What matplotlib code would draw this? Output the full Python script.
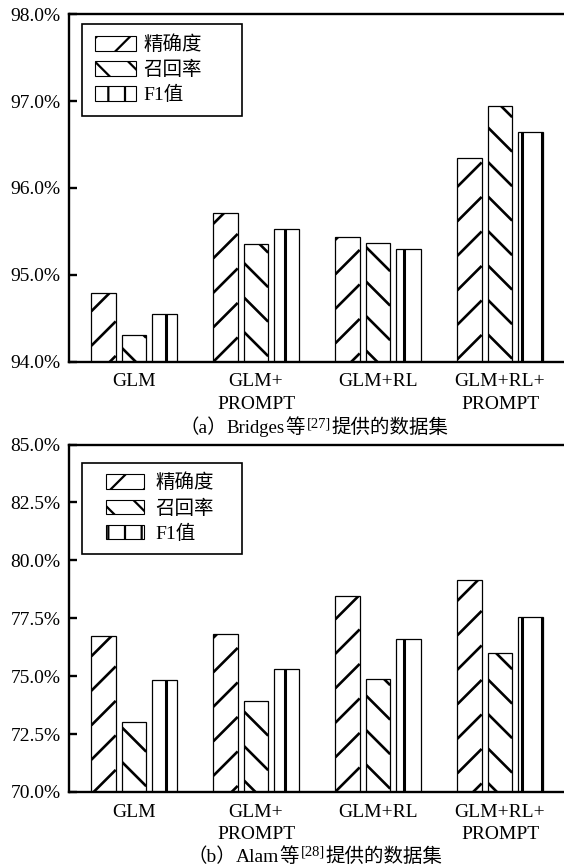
import numpy as np
import matplotlib
matplotlib.use('Agg')
import matplotlib.pyplot as plt
from matplotlib.collections import LineCollection
from matplotlib.transforms import IdentityTransform
from matplotlib.patches import Patch, Rectangle
from matplotlib.legend_handler import HandlerPatch

plt.rcParams['font.family'] = ['Liberation Serif', 'Noto Sans CJK SC']
plt.rcParams['hatch.linewidth'] = 1.6

methods = ['GLM', 'GLM+\nPROMPT', 'GLM+RL', 'GLM+RL+\nPROMPT']
metric_names = ['精确度', '召回率', 'F1值']

# (a) Bridges dataset, %
bridges_precision = [94.79, 95.71, 95.44, 96.35]
bridges_recall = [94.31, 95.35, 95.37, 96.94]
bridges_f1 = [94.55, 95.53, 95.30, 96.64]
bridges_ticks = [94.0, 95.0, 96.0, 97.0, 98.0]

# (b) Alam dataset, %
alam_precision = [76.74, 76.82, 78.46, 79.15]
alam_recall = [73.04, 73.92, 74.87, 76.02]
alam_f1 = [74.84, 75.33, 76.62, 77.54]
alam_ticks = [70.0, 72.5, 75.0, 77.5, 80.0, 82.5, 85.0]

W, H = 564, 868
fig = plt.figure(figsize=(W / 100, H / 100), dpi=100)


def stripes(bars, kind):
    # hand-made sparse hatching, drawn in pixel space and clipped to each bar
    for b in bars:
        x0, y0, x1, y1 = b.get_window_extent().extents
        segs = []
        if kind == 'v':
            step, ph, lw = 19.8, 7.6, 2.2
            ks = np.arange(np.floor((x0 - ph) / step), np.ceil((x1 - ph) / step) + 1)
            for x in ks * step + ph:
                segs.append([(x, y0), (x, y1)])
        elif kind == 'ne':
            step, ph, lw = 34.5, 16.9, 1.9
            ks = np.arange(np.floor((y0 - x1 - ph) / step), np.ceil((y1 - x0 - ph) / step) + 1)
            for c in ks * step + ph:
                segs.append([(x0, x0 + c), (x1, x1 + c)])
        else:
            step, ph, lw = 34.5, 21.0, 1.9
            ks = np.arange(np.floor((y0 + x0 - ph) / step), np.ceil((y1 + x1 - ph) / step) + 1)
            for c in ks * step + ph:
                segs.append([(x0, c - x0), (x1, c - x1)])
        lc = LineCollection(segs, colors='black', linewidths=lw,
                            transform=IdentityTransform(), capstyle='butt')
        b.axes.add_collection(lc, autolim=False)
        # clip after adding, otherwise the axes patch replaces it
        lc.set_clip_path(b)


def legend_patch(shift):
    def make(legend, orig_handle, xdescent, ydescent, width, height, fontsize):
        return Rectangle((-xdescent + shift, -ydescent), width - shift, height)
    return make


def panel(rect, prec, rec, f1, ticks, leg_top, shift, hlen, tpad):
    ax = fig.add_axes(rect)
    x = np.arange(len(methods))
    base = ticks[0]
    ax.set_xlim(-0.533, 3.525)
    ax.set_ylim(ticks[0], ticks[-1])

    for k, (vals, kind) in enumerate(zip([prec, rec, f1], ['ne', 'nw', 'v'])):
        v = np.array(vals)
        bars = ax.bar(x + (k - 1) * 0.25, v - base, bottom=base, width=0.2,
                      color='white', edgecolor='black', linewidth=0.9)
        stripes(bars, kind)

    ax.spines['right'].set_visible(False)
    for s in ['left', 'top', 'bottom']:
        ax.spines[s].set_linewidth(1.7)

    ax.set_yticks(ticks)
    ax.set_yticklabels([f'{t:.1f}%' for t in ticks])
    ax.tick_params(axis='y', direction='in', length=6, width=1.7, pad=6, labelsize=14)
    ax.set_xticks(x)
    ax.set_xticklabels(methods)
    ax.tick_params(axis='x', length=0, pad=8.5, labelsize=14)
    for lbl in ax.get_xticklabels():
        lbl.set_linespacing(1.4)

    handles = [Patch(facecolor='white', edgecolor='black', linewidth=0.8, hatch=h)
               for h in ['/', '\\', '|']]
    leg = ax.legend(handles, metric_names, loc='upper left',
                    bbox_to_anchor=(0.0257, leg_top - 0.2, 0.3244, 0.2), mode='expand',
                    borderaxespad=0, borderpad=0.57, labelspacing=0.36,
                    handlelength=hlen, handleheight=0.77, handletextpad=tpad,
                    fontsize=14, fancybox=False, framealpha=1, edgecolor='black',
                    handler_map={Patch: HandlerPatch(patch_func=legend_patch(shift))})
    leg.get_frame().set_linewidth(1.2)
    return ax


def caption(pieces, cx, base_y):
    r = fig.canvas.get_renderer()
    placed, x = [], 0.0
    for s, size, rise, gap in pieces:
        t = fig.text(x, base_y + rise, s, fontsize=size, ha='left', va='baseline',
                     transform=IdentityTransform())
        w = t.get_window_extent(r).width
        placed.append((t, x))
        x += w + gap
    total = x - pieces[-1][3]
    for t, x0 in placed:
        t.set_x(x0 + cx - total / 2)


ax1 = panel([69 / W, (H - 361.5) / H, 1 - 69 / W, 347.2 / H],
            bridges_precision, bridges_recall, bridges_f1, bridges_ticks,
            0.9712, 1.6, 2.24, 0.375)
ax2 = panel([69 / W, (H - 792) / H, 1 - 69 / W, 347.5 / H],
            alam_precision, alam_recall, alam_f1, alam_ticks,
            0.9476, 9.6, 2.65, 0.566)

caption([('（a）', 14, 0, 0), ('Bridges', 13.5, 0, 0), ('等', 14, 0, 2),
         ('[27]', 10.5, 6, 1), ('提供的数据集', 14, 0, 0)], 314, H - 433)
caption([('（b）', 14, 0, 0), ('Alam', 14, 0, 0), ('等', 14, 0, 2),
         ('[28]', 10.5, 6, 1), ('提供的数据集', 14, 0, 0)], 315, H - 862)

fig.savefig('out.png', dpi=100)
